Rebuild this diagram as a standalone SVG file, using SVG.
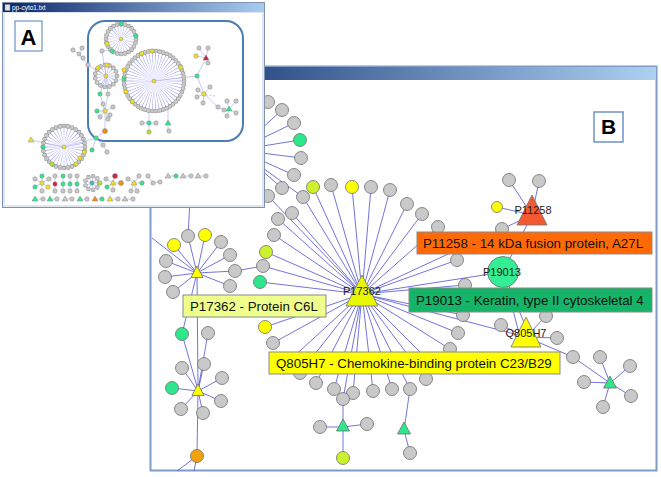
<svg xmlns="http://www.w3.org/2000/svg" width="661" height="477" viewBox="0 0 661 477">
<defs>
<linearGradient id="tbB" gradientUnits="userSpaceOnUse" x1="151" y1="0" x2="656" y2="0"><stop offset="0" stop-color="#0e2c6c"/><stop offset="1" stop-color="#aed0f2"/></linearGradient>
<linearGradient id="tbA" gradientUnits="userSpaceOnUse" x1="3" y1="0" x2="264" y2="0"><stop offset="0" stop-color="#0a246a"/><stop offset="1" stop-color="#a8ccf0"/></linearGradient>
<style>
text{font-family:"Liberation Sans",Arial,sans-serif}
.e line{stroke:#5a5ad6;stroke-width:0.85}
.n{stroke:#6e6e6e;stroke-width:0.8}
.gy{fill:#c9c9c9}.yl{fill:#ffff00}.yg{fill:#ccf22e}.gr{fill:#2ee68c}.or{fill:#f3a20c}
.nl{font-size:11px;fill:#1a1a1a;text-anchor:middle}
.lb{stroke:#8a8a8a;stroke-width:1}
.lt{font-size:13.3px;fill:#111}
.ae line,.ae path{stroke:#a4a4ee;stroke-width:0.6;fill:none}
.a{stroke:#8a8a8a;stroke-width:0.5;fill:#c8c8c8}
.ag{fill:#2ee68c}.ay{fill:#f0e020}.ayg{fill:#b8e030}.ar{fill:#d02040}.ao{fill:#e89018}.at{fill:#40c0b0}
</style>
</defs>
<rect width="661" height="477" fill="#ffffff"/>

<!-- Panel B window -->
<g id="panelB">
<rect x="150.5" y="66.5" width="506" height="404" fill="#ffffff" stroke="#7e9cc6" stroke-width="2"/>
<rect x="151" y="67" width="505" height="13" fill="url(#tbB)"/>

<g id="connectors" class="e">
<line x1="362" y1="294" x2="268" y2="196"/><line x1="362" y1="294" x2="303" y2="197"/><line x1="362" y1="294" x2="313" y2="187"/><line x1="362" y1="294" x2="331" y2="185"/><line x1="362" y1="294" x2="352" y2="187"/><line x1="362" y1="294" x2="371" y2="187"/><line x1="362" y1="294" x2="390" y2="190"/><line x1="362" y1="294" x2="407" y2="204"/><line x1="362" y1="294" x2="422" y2="214"/><line x1="362" y1="294" x2="438" y2="227"/><line x1="362" y1="294" x2="457" y2="260"/><line x1="362" y1="294" x2="292" y2="213"/><line x1="362" y1="294" x2="278" y2="219"/><line x1="362" y1="294" x2="274" y2="235"/><line x1="362" y1="294" x2="266" y2="252"/><line x1="362" y1="294" x2="263" y2="266"/><line x1="362" y1="294" x2="260" y2="282"/><line x1="362" y1="294" x2="502" y2="229"/><line x1="362" y1="294" x2="503" y2="272"/><line x1="362" y1="294" x2="465" y2="285"/><line x1="362" y1="294" x2="463" y2="315"/><line x1="362" y1="294" x2="458" y2="333"/><line x1="362" y1="294" x2="450" y2="349"/><line x1="362" y1="294" x2="526" y2="337"/><line x1="362" y1="294" x2="265" y2="327"/><line x1="362" y1="294" x2="273" y2="343"/><line x1="362" y1="294" x2="300" y2="373"/><line x1="362" y1="294" x2="316" y2="383"/><line x1="362" y1="294" x2="334" y2="389"/><line x1="362" y1="294" x2="353" y2="393"/><line x1="362" y1="294" x2="343" y2="399"/><line x1="362" y1="294" x2="373" y2="391"/><line x1="362" y1="294" x2="392" y2="389"/><line x1="362" y1="294" x2="410" y2="389"/><line x1="362" y1="294" x2="426" y2="379"/><line x1="362" y1="294" x2="290" y2="360"/><line x1="362" y1="294" x2="430" y2="362"/>
<line x1="238" y1="150" x2="268" y2="102"/><line x1="238" y1="150" x2="282" y2="110"/><line x1="238" y1="150" x2="294" y2="123"/><line x1="238" y1="150" x2="300" y2="140"/><line x1="238" y1="150" x2="301" y2="158"/><line x1="238" y1="150" x2="294" y2="175"/><line x1="238" y1="150" x2="282" y2="188"/><line x1="238" y1="150" x2="303" y2="197"/><line x1="238" y1="150" x2="268" y2="196"/>
<line x1="188" y1="236" x2="190" y2="200"/>
<line x1="197" y1="273" x2="188" y2="236"/><line x1="197" y1="273" x2="205" y2="235"/><line x1="197" y1="273" x2="174" y2="245"/><line x1="197" y1="273" x2="221" y2="242"/><line x1="197" y1="273" x2="230" y2="255"/><line x1="197" y1="273" x2="166" y2="261"/><line x1="197" y1="273" x2="235" y2="271"/><line x1="197" y1="273" x2="165" y2="277"/><line x1="197" y1="273" x2="173" y2="292"/><line x1="197" y1="273" x2="230" y2="286"/><line x1="197" y1="273" x2="152" y2="238"/><line x1="197" y1="273" x2="182" y2="334"/><line x1="197" y1="273" x2="198" y2="390"/>
<line x1="235" y1="271" x2="263" y2="266"/>
<line x1="182" y1="334" x2="198" y2="390"/><line x1="208" y1="333" x2="198" y2="390"/>
<line x1="198" y1="391" x2="182" y2="368"/><line x1="198" y1="391" x2="204" y2="364"/><line x1="198" y1="391" x2="222" y2="378"/><line x1="198" y1="391" x2="172" y2="388"/><line x1="198" y1="391" x2="181" y2="409"/><line x1="198" y1="391" x2="221" y2="401"/><line x1="198" y1="391" x2="203" y2="413"/><line x1="198" y1="391" x2="197" y2="456"/>
<line x1="197" y1="456" x2="177" y2="471"/><line x1="197" y1="456" x2="194" y2="471"/>
<line x1="532" y1="215" x2="509" y2="180"/><line x1="532" y1="215" x2="539" y2="181"/><line x1="532" y1="215" x2="497" y2="207"/><line x1="532" y1="215" x2="502" y2="229"/><line x1="532" y1="215" x2="503" y2="272"/>
<line x1="503" y1="272" x2="520" y2="337"/><line x1="503" y1="272" x2="530" y2="337"/>
<line x1="526" y1="337" x2="501" y2="325"/><line x1="526" y1="337" x2="546" y2="316"/><line x1="526" y1="337" x2="557" y2="338"/><line x1="526" y1="337" x2="573" y2="357"/>
<line x1="573" y1="357" x2="610" y2="383"/>
<line x1="610" y1="383" x2="600" y2="357"/><line x1="610" y1="383" x2="630" y2="366"/><line x1="610" y1="383" x2="631" y2="396"/><line x1="610" y1="383" x2="603" y2="407"/><line x1="610" y1="383" x2="584" y2="382"/>
<line x1="343" y1="427" x2="343" y2="399"/><line x1="343" y1="427" x2="320" y2="427"/><line x1="343" y1="427" x2="367" y2="424"/><line x1="343" y1="427" x2="343" y2="458"/>
<line x1="404" y1="430" x2="410" y2="389"/><line x1="404" y1="430" x2="410" y2="453"/>
</g>

<g id="nodes">
<g id="b1"><circle class="n gy" cx="268" cy="102" r="6.5"/></g>
<g id="b2"><circle class="n gy" cx="282" cy="110" r="6.5"/></g>
<g id="b3"><circle class="n gy" cx="294" cy="123" r="6.5"/></g>
<g id="b4"><circle class="n gr" cx="300" cy="140" r="6.5"/></g>
<g id="b5"><circle class="n gy" cx="301" cy="158" r="6.5"/></g>
<g id="b6"><circle class="n gy" cx="294" cy="175" r="6.5"/></g>
<g id="b7"><circle class="n gy" cx="282" cy="188" r="6.5"/></g>
<g id="b8"><circle class="n gy" cx="303" cy="197" r="6.5"/></g>
<g id="b9"><circle class="n gy" cx="268" cy="196" r="6.5"/></g>
<g id="b10"><circle class="n yg" cx="313" cy="187" r="6.5"/></g>
<g id="b11"><circle class="n gy" cx="331" cy="185" r="6.5"/></g>
<g id="b12"><circle class="n yl" cx="352" cy="187" r="6.5"/></g>
<g id="b13"><circle class="n gy" cx="371" cy="187" r="6.5"/></g>
<g id="b14"><circle class="n gy" cx="390" cy="190" r="6.5"/></g>
<g id="b15"><circle class="n gy" cx="407" cy="204" r="6.5"/></g>
<g id="b16"><circle class="n gy" cx="422" cy="214" r="6.5"/></g>
<g id="b17"><circle class="n gy" cx="438" cy="227" r="6.5"/></g>
<g id="b18"><circle class="n gy" cx="457" cy="260" r="6.5"/></g>
<g id="b19"><circle class="n gy" cx="292" cy="213" r="6.5"/></g>
<g id="b20"><circle class="n gy" cx="278" cy="219" r="6.5"/></g>
<g id="b21"><circle class="n gy" cx="274" cy="235" r="6.5"/></g>
<g id="b22"><circle class="n yg" cx="266" cy="252" r="6.5"/></g>
<g id="b23"><circle class="n gy" cx="263" cy="266" r="6.5"/></g>
<g id="b24"><circle class="n gr" cx="260" cy="282" r="6.5"/></g>
<g id="b25"><circle class="n gy" cx="509" cy="180" r="6.5"/></g>
<g id="b26"><circle class="n gy" cx="539" cy="181" r="6.5"/></g>
<g id="b27"><circle class="n yl" cx="497" cy="207" r="5.5"/></g>
<g id="b28"><circle class="n gy" cx="502" cy="229" r="6.5"/></g>
<g id="b29"><circle class="n gy" cx="465" cy="285" r="6.5"/></g>
<g id="b30"><circle class="n gy" cx="463" cy="315" r="6.5"/></g>
<g id="b31"><circle class="n gy" cx="458" cy="333" r="6.5"/></g>
<g id="b32"><circle class="n gy" cx="450" cy="349" r="6.5"/></g>
<g id="b33"><circle class="n gy" cx="501" cy="325" r="6.5"/></g>
<g id="b34"><circle class="n gy" cx="546" cy="316" r="6.5"/></g>
<g id="b35"><circle class="n gy" cx="557" cy="338" r="6.5"/></g>
<g id="b36"><circle class="n gy" cx="573" cy="357" r="6.5"/></g>
<g id="b37"><circle class="n gy" cx="600" cy="357" r="6.5"/></g>
<g id="b38"><circle class="n gy" cx="630" cy="366" r="6.5"/></g>
<g id="b39"><circle class="n gy" cx="631" cy="396" r="6.5"/></g>
<g id="b40"><circle class="n gy" cx="603" cy="407" r="6.5"/></g>
<g id="b41"><circle class="n gy" cx="584" cy="382" r="6.5"/></g>
<g id="b42"><circle class="n yl" cx="265" cy="327" r="6.5"/></g>
<g id="b43"><circle class="n gy" cx="273" cy="343" r="6.5"/></g>
<g id="b44"><circle class="n gy" cx="300" cy="373" r="6.5"/></g>
<g id="b45"><circle class="n gy" cx="316" cy="383" r="6.5"/></g>
<g id="b46"><circle class="n gy" cx="334" cy="389" r="6.5"/></g>
<g id="b47"><circle class="n gy" cx="353" cy="393" r="6.5"/></g>
<g id="b48"><circle class="n gy" cx="343" cy="399" r="6.5"/></g>
<g id="b49"><circle class="n gy" cx="373" cy="391" r="6.5"/></g>
<g id="b50"><circle class="n gy" cx="392" cy="389" r="6.5"/></g>
<g id="b51"><circle class="n gy" cx="410" cy="389" r="6.5"/></g>
<g id="b52"><circle class="n gy" cx="426" cy="379" r="6.5"/></g>
<g id="b53"><circle class="n gy" cx="320" cy="427" r="6.5"/></g>
<g id="b54"><circle class="n gy" cx="367" cy="424" r="6.5"/></g>
<g id="b55"><circle class="n yg" cx="343" cy="458" r="6.5"/></g>
<g id="b56"><circle class="n gy" cx="410" cy="453" r="6.5"/></g>
<g id="b57"><circle class="n gy" cx="188" cy="236" r="6.5"/></g>
<g id="b58"><circle class="n yl" cx="205" cy="235" r="6.5"/></g>
<g id="b59"><circle class="n yl" cx="174" cy="245" r="6.5"/></g>
<g id="b60"><circle class="n gy" cx="221" cy="242" r="6.5"/></g>
<g id="b61"><circle class="n gy" cx="230" cy="255" r="6.5"/></g>
<g id="b62"><circle class="n gy" cx="166" cy="261" r="6.5"/></g>
<g id="b63"><circle class="n gy" cx="235" cy="271" r="6.5"/></g>
<g id="b64"><circle class="n gy" cx="165" cy="277" r="6.5"/></g>
<g id="b65"><circle class="n gy" cx="173" cy="292" r="6.5"/></g>
<g id="b66"><circle class="n gy" cx="230" cy="286" r="6.5"/></g>
<g id="b67"><circle class="n gr" cx="182" cy="334" r="6.5"/></g>
<g id="b68"><circle class="n gy" cx="208" cy="333" r="6.5"/></g>
<g id="b69"><circle class="n gy" cx="182" cy="368" r="6.5"/></g>
<g id="b70"><circle class="n gy" cx="204" cy="364" r="6.5"/></g>
<g id="b71"><circle class="n gy" cx="222" cy="378" r="6.5"/></g>
<g id="b72"><circle class="n gr" cx="172" cy="388" r="6.5"/></g>
<g id="b73"><circle class="n gy" cx="181" cy="409" r="6.5"/></g>
<g id="b74"><circle class="n gy" cx="221" cy="401" r="6.5"/></g>
<g id="b75"><circle class="n gy" cx="203" cy="413" r="6.5"/></g>
<g id="b76"><circle class="n or" cx="197" cy="456" r="6.5"/></g>
<g id="L1"><polygon class="n yl" points="197,266 191,277.5 203,277.5"/></g>
<g id="L2"><polygon class="n yl" points="198,384 192,395.5 204,395.5"/></g>
<g id="G1"><polygon class="n gr" points="343,419 336.5,431 349.5,431"/></g>
<g id="G2"><polygon class="n gr" points="404,422 397.5,434 410.5,434"/></g>
<g id="T4"><polygon class="n gr" points="610,376 603.5,388 616.5,388"/></g>
<g id="P17362"><polygon class="n" fill="#e8f700" points="362,275 346,306 378,306"/><text class="nl" x="362" y="295">P17362</text></g>
<g id="P11258"><polygon class="n" fill="#f35a32" points="532,195 517,225 547,225"/><text class="nl" x="533" y="214">P11258</text></g>
<g id="P19013"><circle class="n" fill="#33ee92" cx="503" cy="272" r="15.5"/><text class="nl" x="502" y="276">P19013</text></g>
<g id="Q805H7"><polygon class="n" fill="#ffff00" points="526,317 511,347 541,347"/><text class="nl" x="526" y="337">Q805H7</text></g>
</g>

<g id="labels">
<g id="lab-P11258"><rect class="lb" x="417" y="232" width="235" height="22" fill="#ff6a06"/><text class="lt" x="423" y="248">P11258 - 14 kDa fusion protein, A27L</text></g>
<g id="lab-P19013"><rect class="lb" x="409" y="288" width="243" height="24" fill="#16b468"/><text class="lt" x="416" y="305">P19013 - Keratin, type II cytoskeletal 4</text></g>
<g id="lab-P17362"><rect class="lb" x="183" y="295" width="143" height="22" fill="#eeff8c"/><text class="lt" x="190" y="311">P17362 - Protein C6L</text></g>
<g id="lab-Q805H7"><rect class="lb" x="269" y="352" width="291" height="22" fill="#ffff00"/><text class="lt" x="276" y="368">Q805H7 - Chemokine-binding protein C23/B29</text></g>
</g>
<g id="boxB"><rect x="594" y="112" width="29" height="30" fill="#ffffff" stroke="#6f93c3" stroke-width="1.5"/><text x="608.5" y="134" font-size="21" font-weight="bold" text-anchor="middle" fill="#000">B</text></g>
</g>

<!-- Panel A window -->
<g id="panelA">
<rect x="2.5" y="2.5" width="262" height="205" fill="#ffffff" stroke="#7f92ae" stroke-width="1"/>
<rect x="4" y="12" width="259" height="194" fill="none" stroke="#d4deea" stroke-width="1.5"/>
<rect x="3" y="3" width="261" height="9" fill="url(#tbA)"/>
<rect x="5" y="4.5" width="5" height="6" fill="#e0e0e0" stroke="#909090" stroke-width="0.4"/>
<text x="12" y="10" font-size="6.5" fill="#ffffff">pp-cyto1.txt</text>
<g id="boxA"><rect x="15" y="21" width="27" height="30" fill="#ffffff" stroke="#6f93c3" stroke-width="1.2"/><text x="28.5" y="45" font-size="22" font-weight="bold" text-anchor="middle" fill="#000">A</text></g>
<rect x="88" y="21" width="155" height="120" rx="17" fill="none" stroke="#4d7bb5" stroke-width="2"/>

<g class="ae">
<line x1="106" y1="76" x2="102" y2="51"/><line x1="102" y1="51" x2="112" y2="50"/>
<line x1="112" y1="79" x2="123" y2="80" stroke-dasharray="2 1.5"/>
<line x1="106" y1="76" x2="88" y2="65"/><line x1="88" y1="65" x2="79" y2="54"/>
<line x1="79" y1="54" x2="73" y2="50"/><line x1="79" y1="54" x2="82" y2="48"/><line x1="79" y1="54" x2="83" y2="58"/>
<line x1="106" y1="76" x2="100" y2="94"/><line x1="106" y1="76" x2="108" y2="94"/><line x1="100" y1="94" x2="105" y2="111"/><line x1="108" y1="94" x2="105" y2="111"/>
<line x1="105" y1="111" x2="97" y2="111"/><line x1="105" y1="111" x2="100" y2="117"/><line x1="105" y1="111" x2="110" y2="115"/><line x1="105" y1="111" x2="113" y2="107"/><line x1="105" y1="111" x2="103" y2="104"/><line x1="105" y1="111" x2="108" y2="119"/>
<line x1="105" y1="111" x2="105" y2="131"/><line x1="105" y1="131" x2="96" y2="138"/><line x1="96" y1="138" x2="64" y2="147"/><line x1="96" y1="138" x2="103" y2="145"/><line x1="103" y1="145" x2="107" y2="152"/><line x1="96" y1="138" x2="92" y2="150"/>
<line x1="154" y1="81" x2="197" y2="76"/><line x1="197" y1="76" x2="206" y2="58"/><line x1="197" y1="76" x2="204" y2="94"/>
<line x1="206" y1="58" x2="199" y2="48"/><line x1="206" y1="58" x2="208" y2="48"/><line x1="206" y1="58" x2="196" y2="56"/><line x1="206" y1="58" x2="208" y2="63"/>
<line x1="204" y1="94" x2="198" y2="90"/><line x1="204" y1="94" x2="210" y2="87"/><line x1="204" y1="94" x2="197" y2="97"/><line x1="204" y1="94" x2="203" y2="103"/><line x1="206" y1="95" x2="216" y2="96" stroke-dasharray="2 1.5"/>
<line x1="204" y1="94" x2="218" y2="107"/><line x1="218" y1="107" x2="224" y2="110"/><line x1="224" y1="110" x2="229" y2="109"/>
<line x1="229" y1="109" x2="227" y2="101"/><line x1="229" y1="109" x2="236" y2="101"/><line x1="229" y1="109" x2="236" y2="113"/><line x1="229" y1="109" x2="227" y2="116"/>
<line x1="149" y1="111" x2="149" y2="132"/><line x1="142" y1="123" x2="156" y2="123"/><line x1="168" y1="110" x2="168" y2="131"/>
<line x1="64" y1="147" x2="31" y2="140"/>
<line x1="42" y1="183" x2="35" y2="179"/><line x1="42" y1="183" x2="35" y2="187"/><line x1="42" y1="183" x2="42" y2="176"/><line x1="42" y1="183" x2="48" y2="187"/><line x1="42" y1="183" x2="42" y2="191"/><line x1="42" y1="183" x2="49" y2="179"/>
<line x1="55" y1="176" x2="55" y2="191"/><line x1="63" y1="176" x2="63" y2="191"/><line x1="70" y1="176" x2="70" y2="191"/><line x1="77" y1="176" x2="77" y2="191"/>
<line x1="113" y1="183" x2="115" y2="176"/><line x1="113" y1="183" x2="121" y2="183"/><line x1="113" y1="183" x2="107" y2="187"/><line x1="113" y1="183" x2="113" y2="190"/><line x1="113" y1="183" x2="106" y2="179"/>
<line x1="134" y1="183" x2="128" y2="179"/><line x1="134" y1="183" x2="131" y2="191"/><line x1="134" y1="183" x2="139" y2="176"/><line x1="134" y1="183" x2="142" y2="183"/><line x1="134" y1="183" x2="137" y2="191"/>
<line x1="148" y1="176" x2="153" y2="183"/><line x1="153" y1="183" x2="160" y2="182"/>
<line x1="168" y1="176" x2="176" y2="176"/><line x1="183" y1="176" x2="191" y2="176"/><line x1="198" y1="176" x2="206" y2="176"/>
<line x1="35" y1="199" x2="43" y2="199"/><line x1="50" y1="199" x2="57" y2="199"/><line x1="65" y1="199" x2="72" y2="199"/><line x1="80" y1="199" x2="87" y2="199"/><line x1="95" y1="199" x2="102" y2="199"/><line x1="110" y1="199" x2="118" y2="199"/><line x1="125" y1="199" x2="133" y2="199"/>
</g>

<!-- hub fans -->
<circle cx="121" cy="39" r="7.5" fill="none" stroke="#a8a8f0" stroke-width="15" pathLength="24" stroke-dasharray="0.2 0.8" stroke-dashoffset="0.1"/>
<circle cx="154" cy="81" r="15" fill="none" stroke="#a8a8f0" stroke-width="30" pathLength="50" stroke-dasharray="0.22 0.78" stroke-dashoffset="0.11"/>
<circle cx="106" cy="76" r="5.5" fill="none" stroke="#a8a8f0" stroke-width="11" pathLength="15" stroke-dasharray="0.2 0.8" stroke-dashoffset="0.1"/>
<circle cx="64" cy="147" r="10.5" fill="none" stroke="#a8a8f0" stroke-width="21" pathLength="32" stroke-dasharray="0.2 0.8" stroke-dashoffset="0.1"/>
<circle cx="92" cy="183" r="3.5" fill="none" stroke="#a8a8f0" stroke-width="7" pathLength="9" stroke-dasharray="0.2 0.8" stroke-dashoffset="0.1"/>
<!-- rings of nodes -->
<g fill="none" stroke-linecap="round" stroke-dasharray="0 1">
<circle cx="121" cy="39" r="15" stroke="#8a8a8a" stroke-width="4.6" pathLength="24"/>
<circle cx="121" cy="39" r="15" stroke="#c8c8c8" stroke-width="3.7" pathLength="24"/>
<circle cx="154" cy="81" r="30" stroke="#8a8a8a" stroke-width="4.6" pathLength="50"/>
<circle cx="154" cy="81" r="30" stroke="#c8c8c8" stroke-width="3.7" pathLength="50"/>
<circle cx="106" cy="76" r="11" stroke="#8a8a8a" stroke-width="4.6" pathLength="15"/>
<circle cx="106" cy="76" r="11" stroke="#c8c8c8" stroke-width="3.7" pathLength="15"/>
<circle cx="64" cy="147" r="21" stroke="#8a8a8a" stroke-width="4.6" pathLength="32"/>
<circle cx="64" cy="147" r="21" stroke="#c8c8c8" stroke-width="3.7" pathLength="32"/>
<circle cx="92" cy="183" r="7" stroke="#8a8a8a" stroke-width="4.4" pathLength="9"/>
<circle cx="92" cy="183" r="7" stroke="#c8c8c8" stroke-width="3.6" pathLength="9"/>
</g>
<!-- individual nodes -->
<g>
<circle class="a ag" cx="121" cy="24" r="2.2"/><circle class="a ag" cx="136" cy="36" r="2.2"/><circle class="a ag" cx="112" cy="51" r="2.2"/><circle class="a ay" cx="107" cy="44" r="2.2"/>
<circle class="a ay" cx="141.7" cy="53.7" r="2.2"/><circle class="a ay" cx="152" cy="51" r="2.2"/><circle class="a ay" cx="124.1" cy="70" r="2.2"/><circle class="a ag" cx="124" cy="79" r="2.2"/><circle class="a ay" cx="126" cy="91.6" r="2.2"/><circle class="a ay" cx="132.3" cy="101.7" r="2.2"/><circle class="a ay" cx="180.6" cy="67.2" r="2.2"/>
<circle class="a ay" cx="98" cy="68" r="2.2"/><circle class="a ay" cx="107" cy="65" r="2.2"/>
<circle class="a ay" cx="154" cy="81" r="2"/><circle class="a ay" cx="121" cy="39" r="1.8"/><circle class="a ay" cx="106" cy="76" r="2"/><circle class="a ay" cx="64" cy="147" r="2"/>
<circle class="a" cx="102" cy="51" r="2.2"/><circle class="a" cx="88" cy="65" r="2.2"/><circle class="a" cx="79" cy="54" r="2"/><circle class="a" cx="73" cy="50" r="2.2"/><circle class="a" cx="82" cy="48" r="2.2"/><circle class="a" cx="83" cy="58" r="2.2"/>
<circle class="a ag" cx="100" cy="94" r="2.2"/><circle class="a" cx="108" cy="94" r="2.2"/>
<circle class="a ay" cx="105" cy="111" r="2.2"/><circle class="a ag" cx="97" cy="111" r="2.2"/><circle class="a" cx="100" cy="117" r="2.2"/><circle class="a" cx="110" cy="115" r="2.2"/><circle class="a" cx="113" cy="107" r="2.2"/><circle class="a" cx="103" cy="104" r="2.2"/><circle class="a" cx="108" cy="119" r="2.2"/>
<circle class="a ao" cx="105" cy="131" r="2.5"/><circle class="a ag" cx="96" cy="138" r="2.2"/><circle class="a ag" cx="92" cy="150" r="2.2"/><circle class="a" cx="103" cy="145" r="2.2"/><circle class="a" cx="107" cy="152" r="2.2"/>
<circle class="a ag" cx="197" cy="76" r="2.2"/><polygon class="a ar" points="206,55 203,60 209,60"/><circle class="a" cx="199" cy="48" r="2.2"/><circle class="a" cx="208" cy="48" r="2.2"/><circle class="a ay" cx="196" cy="56" r="2.2"/><circle class="a" cx="208" cy="63" r="2.2"/>
<circle class="a ay" cx="204" cy="94" r="2.2"/><circle class="a" cx="198" cy="90" r="2.2"/><circle class="a" cx="210" cy="87" r="2.2"/><circle class="a" cx="197" cy="97" r="2.2"/><circle class="a" cx="203" cy="103" r="2.2"/>
<circle class="a" cx="218" cy="107" r="2.2"/><circle class="a" cx="224" cy="110" r="2.2"/><polygon class="a ag" points="229,106 226,111 232,111"/><circle class="a" cx="227" cy="101" r="2.2"/><circle class="a" cx="236" cy="101" r="2.2"/><circle class="a" cx="236" cy="113" r="2.2"/><circle class="a" cx="227" cy="116" r="2.2"/>
<circle class="a ag" cx="149" cy="123" r="2.2"/><circle class="a ayg" cx="149" cy="132" r="2.2"/><circle class="a" cx="142" cy="123" r="2.2"/><circle class="a" cx="156" cy="123" r="2.2"/><polygon class="a ag" points="168,120 165,125 171,125"/><circle class="a" cx="169" cy="131" r="2.2"/>
<circle class="a ag" cx="43" cy="147" r="2.2"/><circle class="a ay" cx="84.4" cy="152" r="2.2"/><circle class="a ay" cx="76" cy="164" r="2.2"/><circle class="a ayg" cx="52" cy="164" r="2.2"/><circle class="a ay" cx="80" cy="158" r="2.2"/><polygon class="a ay" points="31,137 28,142 34,142"/>
<circle class="a ay" cx="42" cy="183" r="2.2"/><circle class="a" cx="35" cy="179" r="2.2"/><circle class="a ag" cx="35" cy="187" r="2.2"/><circle class="a ag" cx="42" cy="176" r="2.2"/><circle class="a ay" cx="48" cy="187" r="2.2"/><circle class="a" cx="42" cy="191" r="2.2"/><circle class="a" cx="49" cy="179" r="2.2"/>
<circle class="a" cx="55" cy="176" r="2.2"/><circle class="a ar" cx="55" cy="184" r="2.2"/><circle class="a" cx="55" cy="191" r="2.2"/>
<circle class="a ag" cx="63" cy="176" r="2.2"/><circle class="a ag" cx="63" cy="184" r="2.2"/><circle class="a" cx="63" cy="191" r="2.2"/>
<circle class="a" cx="70" cy="176" r="2.2"/><circle class="a ag" cx="70" cy="184" r="2.2"/><circle class="a" cx="70" cy="191" r="2.2"/>
<circle class="a" cx="77" cy="176" r="2.2"/><circle class="a ag" cx="77" cy="184" r="2.2"/><circle class="a" cx="77" cy="191" r="2.2"/>
<circle class="a at" cx="92" cy="183" r="2.2"/><circle class="a ayg" cx="100" cy="183" r="2.2"/>
<circle class="a ar" cx="115" cy="176" r="2.5"/><polygon class="a ay" points="113,180 110,185 116,185"/><circle class="a ao" cx="121" cy="183" r="2.5"/><circle class="a ag" cx="107" cy="187" r="2.2"/><circle class="a" cx="113" cy="190" r="2.2"/><circle class="a" cx="106" cy="179" r="2.2"/>
<polygon class="a ay" points="134,180 131,185 137,185"/><circle class="a" cx="128" cy="179" r="2.2"/><circle class="a" cx="131" cy="191" r="2.2"/><circle class="a" cx="139" cy="176" r="2.2"/><circle class="a ag" cx="142" cy="183" r="2.2"/><circle class="a" cx="137" cy="191" r="2.2"/>
<circle class="a" cx="148" cy="176" r="2.2"/><circle class="a" cx="153" cy="183" r="2.2"/><circle class="a" cx="160" cy="182" r="2.2"/>
<polygon class="a" points="168,173 165,178 171,178"/><circle class="a ag" cx="176" cy="176" r="2.2"/><polygon class="a" points="183,173 180,178 186,178"/><circle class="a" cx="191" cy="176" r="2.2"/><polygon class="a" points="198,173 195,178 201,178"/><circle class="a" cx="206" cy="176" r="2.2"/>
<polygon class="a ag" points="35,196 32,201 38,201"/><circle class="a" cx="43" cy="199" r="2.2"/><polygon class="a ag" points="50,196 47,201 53,201"/><circle class="a" cx="57" cy="199" r="2.2"/><polygon class="a" points="65,196 62,201 68,201"/><circle class="a" cx="72" cy="199" r="2.2"/><polygon class="a ag" points="80,196 77,201 83,201"/><circle class="a" cx="87" cy="199" r="2.2"/><polygon class="a ao" points="95,196 92,201 98,201"/><circle class="a ag" cx="102" cy="199" r="2.2"/><polygon class="a ay" points="110,196 107,201 113,201"/><circle class="a" cx="118" cy="199" r="2.2"/><polygon class="a" points="125,196 122,201 128,201"/><circle class="a" cx="133" cy="199" r="2.2"/>
</g>
</g>
</svg>
